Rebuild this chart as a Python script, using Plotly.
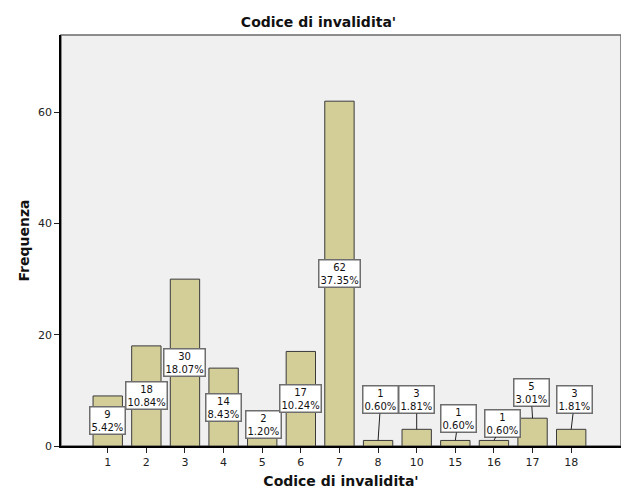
import plotly.graph_objects as go

# --- Data ---
codes = ["1", "2", "3", "4", "5", "6", "7", "8", "10", "15", "16", "17", "18"]
counts = [9, 18, 30, 14, 2, 17, 62, 1, 3, 1, 1, 5, 3]

# label box placement (data units): centre height, small x nudge, leader line or not
label_y = [4.5, 9, 15, 7, 3.9, 8.5, 31, 8.3, 8.3, 4.9, 4.1, 9.6, 8.3]
label_dx = [0, 0, 0, 0, 0.03, 0, 0, 0.07, 0, 0.08, 0.23, -0.04, 0.09]
leader = [False, False, False, False, False, False, False, True, True, True, True, True, True]

total = sum(counts)
pcts = [c / total * 100 for c in counts]

BAR = "#D3CE97"
FONT = "DejaVu Sans"

fig = go.Figure()
fig.add_trace(
    go.Bar(
        x=codes,
        y=counts,
        marker=dict(color=BAR, line=dict(color="#3a3a3a", width=1)),
        width=0.76,
        hoverinfo="x+y",
    )
)

# count / percent boxes
for i, (c, p) in enumerate(zip(counts, pcts)):
    txt = f"{c}<br>{p:.2f}%"
    box = dict(
        text=txt,
        font=dict(family=FONT, size=10, color="#111"),
        bgcolor="white",
        bordercolor="#6e6e6e",
        borderwidth=1.5,
        borderpad=1,
        xref="x",
        yref="y",
    )
    if leader[i]:
        fig.add_annotation(
            x=i, y=c,
            ax=i + label_dx[i], ay=label_y[i],
            axref="x", ayref="y",
            showarrow=True, arrowhead=0, arrowwidth=1, arrowcolor="#222",
            **box,
        )
    else:
        fig.add_annotation(
            x=i + label_dx[i], y=label_y[i],
            showarrow=False,
            **box,
        )

# grey frame round the plot area
fig.add_shape(
    type="rect", xref="paper", yref="paper", x0=0, x1=1, y0=0, y1=1,
    line=dict(color="#6a6a6a", width=1.5), layer="below",
)

# page body has an 8px margin, so the figure is 8px smaller and margins shifted
fig.update_layout(
    width=621,
    height=496,
    margin=dict(l=53, r=8, t=27, b=58),
    paper_bgcolor="white",
    plot_bgcolor="#F0F0F0",
    showlegend=False,
    bargap=0.24,
    font=dict(family=FONT, color="#222"),
    title=dict(
        text="<b>Codice di invalidita'</b>",
        x=0.5, xref="container", xanchor="center",
        y=1 - 14 / 496, yanchor="middle",
        font=dict(family=FONT, size=14, color="#111"),
    ),
    xaxis=dict(
        type="category",
        range=[-1.21, 13.29],
        showgrid=False,
        showline=True, linecolor="black", linewidth=1.5,
        ticks="outside", ticklen=5, tickcolor="#222",
        tickfont=dict(family=FONT, size=11, color="#222"),
        title=dict(text="<b>Codice di invalidita'</b>", standoff=8,
                   font=dict(family=FONT, size=14, color="#111")),
        zeroline=False,
        automargin=False,
    ),
    yaxis=dict(
        range=[0, 73.9],
        tickvals=[0, 20, 40, 60],
        showgrid=False,
        showline=True, linecolor="black", linewidth=1.5,
        ticks="outside", ticklen=5, tickcolor="#222",
        tickfont=dict(family=FONT, size=11, color="#222"),
        title=dict(text="<b>Frequenza</b>", standoff=5,
                   font=dict(family=FONT, size=14, color="#111")),
        zeroline=False,
        automargin=False,
    ),
)

fig.write_html("out.html")
